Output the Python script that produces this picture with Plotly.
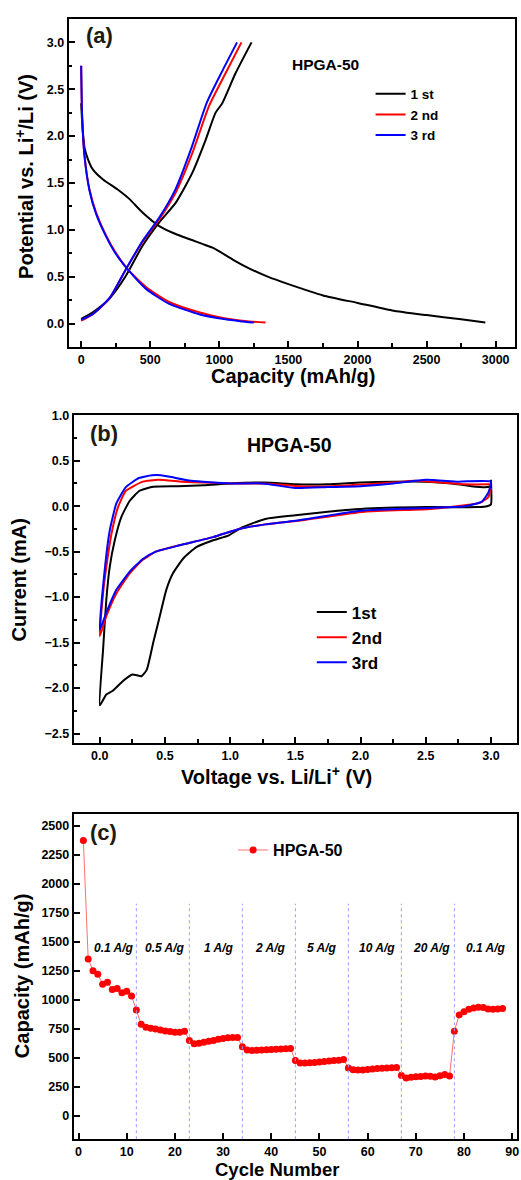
import plotly.graph_objects as go

W, H = 521, 1180
FONT = "Liberation Sans"

# ---------------- Panel (a): charge/discharge profiles ----------------
cap_dis_1 = [0, 5, 12, 25, 50, 84, 156, 264, 348, 444, 565, 684, 877, 950, 1000, 1100, 1200, 1350,
             1500, 1750, 2000, 2250, 2500, 2750, 2925]
pot_dis_1 = [2.35, 2.20, 2.05, 1.87, 1.75, 1.645, 1.54, 1.43, 1.33, 1.185, 1.04, 0.955, 0.85, 0.81,
             0.77, 0.68, 0.60, 0.50, 0.42, 0.30, 0.22, 0.14, 0.09, 0.045, 0.01]
cap_chg_1 = [0, 84, 204, 324, 444, 565, 685, 805, 901, 973, 1021, 1117, 1233]
pot_chg_1 = [0.05, 0.12, 0.265, 0.51, 0.83, 1.08, 1.29, 1.61, 1.96, 2.25, 2.35, 2.67, 3.0]

cap_dis_2 = [0, 7, 24, 60, 108, 180, 248, 336, 469, 637, 853, 1045, 1200, 1334]
pot_dis_2 = [2.75, 2.21, 1.79, 1.43, 1.185, 0.94, 0.76, 0.58, 0.39, 0.23, 0.12, 0.053, 0.025, 0.01]
cap_chg_2 = [0, 84, 204, 324, 444, 565, 685, 805, 925, 1045, 1160]
pot_chg_2 = [0.03, 0.10, 0.265, 0.58, 0.87, 1.11, 1.40, 1.82, 2.32, 2.67, 3.0]

cap_dis_3 = [0, 7, 24, 60, 108, 180, 248, 336, 469, 637, 853, 1045, 1150, 1250]
pot_dis_3 = [2.75, 2.21, 1.79, 1.42, 1.17, 0.93, 0.75, 0.58, 0.37, 0.21, 0.10, 0.045, 0.025, 0.01]
cap_chg_3 = [0, 84, 204, 324, 444, 565, 685, 795, 910, 1030, 1128]
pot_chg_3 = [0.04, 0.10, 0.27, 0.58, 0.88, 1.13, 1.44, 1.86, 2.36, 2.72, 3.0]

# ---------------- Panel (b): cyclic voltammetry ----------------
volt_1 = [3.0, 3.0, 2.97, 2.9, 2.5, 2.0, 1.75, 1.5, 1.27, 1.095, 0.99, 0.87, 0.74, 0.64, 0.56,
          0.51, 0.46, 0.41, 0.36, 0.32, 0.25, 0.18, 0.10, 0.05, 0.0,
          0.025, 0.05, 0.076, 0.115, 0.165, 0.23, 0.305, 0.41, 0.6, 0.8, 1.0, 1.27,
          1.5, 1.75, 2.0, 2.25, 2.5, 2.7, 2.85, 2.97, 3.0]
curr_1 = [0.29, 0.02, 0.0, -0.01, -0.01, -0.03, -0.06, -0.10, -0.14, -0.23, -0.32, -0.375, -0.45,
          -0.575, -0.74, -0.92, -1.21, -1.50, -1.80, -1.87, -1.85, -1.92, -2.03, -2.07, -2.19,
          -1.58, -1.03, -0.67, -0.375, -0.12, 0.06, 0.17, 0.215, 0.22, 0.23, 0.25, 0.26,
          0.24, 0.24, 0.26, 0.27, 0.27, 0.25, 0.22, 0.21, 0.22]

volt_2 = [3.0, 2.98, 2.92, 2.8, 2.54, 2.03, 1.52, 1.27, 1.07, 0.87, 0.61, 0.43, 0.33, 0.23, 0.127,
          0.05, 0.0, 0.025, 0.05, 0.09, 0.14, 0.2, 0.33, 0.45, 0.63, 0.8, 1.01, 1.27, 1.52, 1.78,
          2.03, 2.25, 2.41, 2.54, 2.8, 3.0]
curr_2 = [0.20, 0.10, 0.04, 0.01, -0.03, -0.06, -0.16, -0.20, -0.25, -0.34, -0.43, -0.50, -0.59,
          -0.74, -0.96, -1.21, -1.43, -0.96, -0.67, -0.30, -0.01, 0.17, 0.27, 0.29, 0.27, 0.26, 0.25,
          0.25, 0.22, 0.22, 0.24, 0.26, 0.28, 0.27, 0.24, 0.24]

volt_3 = [3.0, 2.98, 2.93, 2.8, 2.5, 2.0, 1.5, 1.27, 1.07, 0.87, 0.61, 0.43, 0.33, 0.23, 0.127,
          0.05, 0.0, 0.04, 0.076, 0.127, 0.2, 0.3, 0.4, 0.47, 0.55, 0.7, 1.0, 1.25, 1.5, 1.75, 2.0,
          2.25, 2.5, 2.75, 3.0]
curr_3 = [0.27, 0.15, 0.05, 0.0, -0.02, -0.05, -0.16, -0.20, -0.25, -0.34, -0.43, -0.50, -0.58,
          -0.72, -0.92, -1.17, -1.36, -0.67, -0.27, 0.03, 0.21, 0.31, 0.34, 0.34,
          0.32, 0.28, 0.25, 0.25, 0.20, 0.21, 0.22, 0.25, 0.29, 0.27, 0.27]

# ---------------- Panel (c): rate capability ----------------
cycles = list(range(1, 89))
capacity = [2375, 1355, 1253, 1222, 1137, 1153, 1091, 1100, 1062, 1076, 1036, 914, 791, 766, 758,
            750, 741, 734, 728, 722, 722, 731,
            652, 624, 627, 636, 645, 652, 662, 669, 674, 678, 678,
            597, 569, 565, 567, 570, 572, 574, 576, 578, 580, 582,
            478, 458, 458, 460, 462, 466, 470, 474, 478, 482, 488,
            415, 400, 397, 398, 402, 406, 410, 412, 414, 416, 418,
            349, 329, 335, 338, 340, 345, 344, 336, 347, 358, 345,
            732, 872, 900, 920, 932, 938, 935, 922, 921, 923, 928]
rate_boundaries = [12, 23, 34, 45, 56, 67, 78]
rate_labels = ["0.1 A/g", "0.5 A/g", "1 A/g", "2 A/g", "5 A/g", "10 A/g", "20 A/g", "0.1 A/g"]
rate_label_x = [7.4, 17.9, 29.1, 39.9, 50.6, 62.0, 73.2, 84.6]

BLACK, RED, BLUE = "#000000", "#ff0000", "#0000ff"


def px(x):
    return x / W


def py(y):
    return 1 - y / H


fig = go.Figure()

# panel a traces
for xs, ys, c, name, show in [
    (cap_dis_1, pot_dis_1, BLACK, "1 st", True), (cap_chg_1, pot_chg_1, BLACK, "1 st", False),
    (cap_dis_2, pot_dis_2, RED, "2 nd", True), (cap_chg_2, pot_chg_2, RED, "2 nd", False),
    (cap_dis_3, pot_dis_3, BLUE, "3 rd", True), (cap_chg_3, pot_chg_3, BLUE, "3 rd", False),
]:
    fig.add_trace(go.Scatter(x=xs, y=ys, mode="lines", name=name, showlegend=show,
                             legend="legend", legendgroup="a" + name,
                             line=dict(color=c, width=2, shape="spline", smoothing=0.6),
                             xaxis="x", yaxis="y"))

# panel b traces
for xs, ys, c, name in [(volt_1, curr_1, BLACK, "1st"), (volt_2, curr_2, RED, "2nd"),
                        (volt_3, curr_3, BLUE, "3rd")]:
    fig.add_trace(go.Scatter(x=xs, y=ys, mode="lines", name=name, legend="legend2",
                             line=dict(color=c, width=2, shape="spline", smoothing=0.45),
                             xaxis="x2", yaxis="y2"))

# panel c
fig.add_trace(go.Scatter(x=cycles, y=capacity, mode="lines+markers", name="HPGA-50",
                         legend="legend3",
                         line=dict(color="#ff7070", width=1),
                         marker=dict(color=RED, size=7),
                         xaxis="x3", yaxis="y3"))

for b in rate_boundaries:
    fig.add_shape(type="line", xref="x3", yref="y3", x0=b, x1=b, y0=-200, y1=1830,
                  line=dict(color="#9a9aff", width=1, dash="dot"))

tickfont = dict(family=FONT, size=12.5, color="black", weight="bold")
common = dict(showline=True, linecolor="black", linewidth=2, mirror=True, ticks="inside",
              ticklen=6, tickwidth=1.5, tickcolor="black", showgrid=False, zeroline=False,
              tickfont=tickfont, ticklabeloverflow="allow")
minor = dict(ticks="inside", ticklen=3.5, tickwidth=1.5, tickcolor="black", showgrid=False)

fig.update_layout(
    width=W, height=H, margin=dict(l=0, r=0, t=0, b=0),
    paper_bgcolor="white", plot_bgcolor="white",
    xaxis=dict(domain=[px(69), px(517)], anchor="y", range=[-90, 3140], tick0=0, dtick=500,
               minor=dict(dtick=250, **minor), **common),
    yaxis=dict(domain=[py(342), py(12)], anchor="x", range=[-0.25, 3.25], tick0=0, dtick=0.5,
               tickformat=".1f", minor=dict(dtick=0.25, **minor), **common),
    xaxis2=dict(domain=[px(74), px(519)], anchor="y2", range=[-0.2, 3.2], tick0=0, dtick=0.5,
                tickformat=".1f", minor=dict(dtick=0.25, **minor), **common),
    yaxis2=dict(domain=[py(740), py(410.7)], anchor="x2", range=[-2.6, 1.0], tick0=0, dtick=0.5,
                tickformat=".1f", minor=dict(dtick=0.25, **minor), **common),
    xaxis3=dict(domain=[px(74), px(519)], anchor="y3", range=[-1, 91], tick0=0, dtick=10,
                **common),
    yaxis3=dict(domain=[py(1139), py(812.3)], anchor="x3", range=[-200, 2600], tick0=0,
                dtick=250, **common),
    legend=dict(x=px(372), y=py(72), xanchor="left", yanchor="top", bgcolor="rgba(0,0,0,0)",
                font=dict(family=FONT, size=13.5, color="black", weight="bold"),
                tracegroupgap=0),
    legend2=dict(x=px(313), y=py(591), xanchor="left", yanchor="top", bgcolor="rgba(0,0,0,0)",
                 font=dict(family=FONT, size=17, color="black", weight="bold")),
    legend3=dict(x=px(234), y=py(831), xanchor="left", yanchor="top", bgcolor="rgba(0,0,0,0)",
                 font=dict(family=FONT, size=16, color="black", weight="bold")),
)

ann = []


def text(x, y, s, size, angle=0, style="normal", xanchor="center", color="black"):
    ann.append(dict(x=px(x), y=py(y), xref="paper", yref="paper", text=s, showarrow=False,
                    textangle=angle, xanchor=xanchor, yanchor="middle",
                    font=dict(family=FONT, size=size, color=color, weight="bold", style=style)))


# panel labels
text(84, 29, "(a)", 22, xanchor="left", color="#1f1a10")
text(88, 429, "(b)", 22, xanchor="left", color="#1f1a10")
text(88, 830, "(c)", 22, xanchor="left", color="#1f1a10")
# sample names
text(327, 58, "HPGA-50", 15.5)
text(291, 441, "HPGA-50", 19.5)
# axis titles
text(25, 170, "Potential vs. Li<sup>+</sup>/Li (V)", 20, angle=-90)
text(294, 371, "Capacity (mAh/g)", 20)
text(19, 576, "Current (mA)", 20, angle=-90)
text(278, 773, "Voltage vs. Li/Li<sup>+</sup> (V)", 20)
text(22, 975, "Capacity (mAh/g)", 20, angle=-90)
text(278, 1169, "Cycle Number", 18.5)

for lx, lab in zip(rate_label_x, rate_labels):
    ann.append(dict(x=lx, y=1450, xref="x3", yref="y3", text=lab, showarrow=False,
                    font=dict(family=FONT, size=12, color="black", weight="bold",
                              style="italic")))

fig.update_layout(annotations=ann)

fig.write_html("out.html", config={"displayModeBar": False},
               post_script="document.body.style.margin='0';document.body.style.overflow='hidden';")
